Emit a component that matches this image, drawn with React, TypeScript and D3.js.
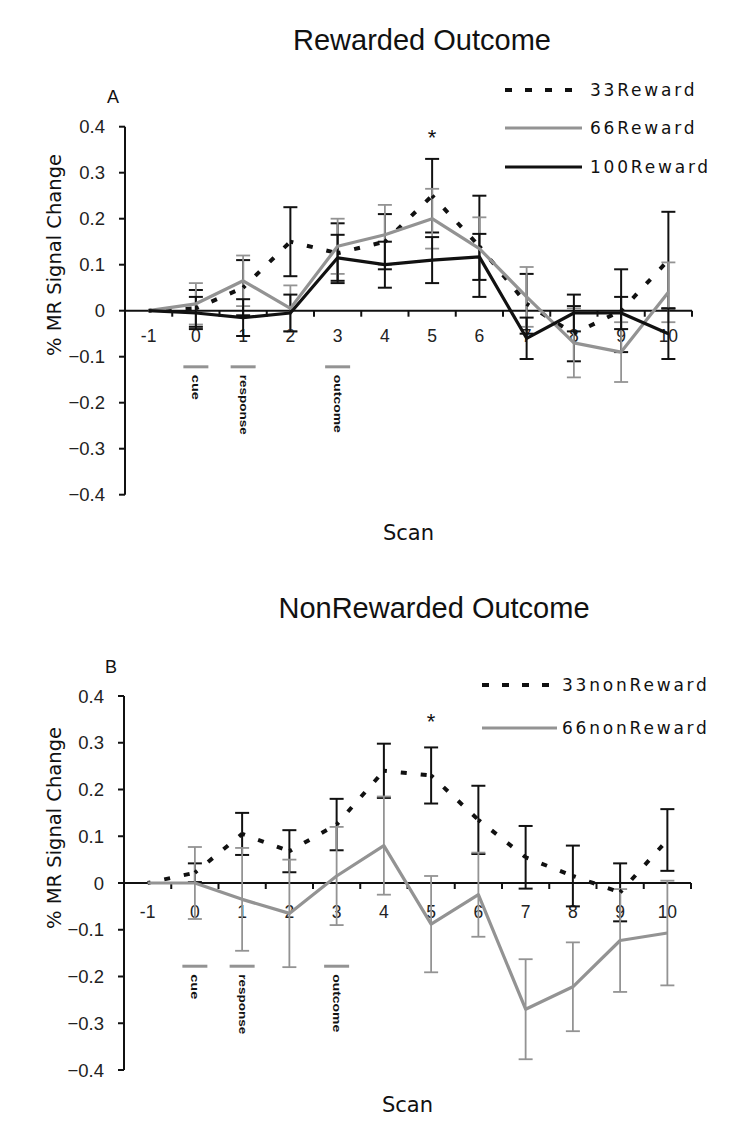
import React from "react";
import * as d3 from "d3";

// ---------- data ----------
const scans = ["-1", "0", "1", "2", "3", "4", "5", "6", "7", "8", "9", "10"];
const yTicks = [0.4, 0.3, 0.2, 0.1, 0, -0.1, -0.2, -0.3, -0.4];

const reward33 = [0, 0.005, 0.05, 0.15, 0.125, 0.15, 0.25, 0.14, 0.015, -0.05, 0.0, 0.11];
const reward33Err = [0, 0.04, 0.06, 0.075, 0.065, 0.06, 0.08, 0.11, 0.065, 0.06, 0.09, 0.105];
const reward66 = [0, 0.015, 0.065, 0.005, 0.14, 0.165, 0.2, 0.135, 0.03, -0.07, -0.09, 0.04];
const reward66Err = [0, 0.045, 0.055, 0.05, 0.06, 0.065, 0.065, 0.068, 0.065, 0.075, 0.065, 0.065];
const reward100 = [0, -0.005, -0.015, -0.005, 0.115, 0.1, 0.11, 0.117, -0.06, -0.005, -0.005, -0.05];
const reward100Err = [0, 0.035, 0.04, 0.04, 0.05, 0.05, 0.05, 0.05, 0.045, 0.04, 0.035, 0.055];

const nonReward33 = [0, 0.022, 0.105, 0.068, 0.125, 0.24, 0.23, 0.135, 0.055, 0.015, -0.02, 0.092];
const nonReward33Err = [0, 0.02, 0.045, 0.045, 0.055, 0.058, 0.06, 0.073, 0.067, 0.065, 0.062, 0.066];
const nonReward66 = [0, 0, -0.035, -0.065, 0.015, 0.08, -0.088, -0.025, -0.27, -0.222, -0.123, -0.107];
const nonReward66Err = [0, 0.077, 0.11, 0.115, 0.105, 0.105, 0.103, 0.09, 0.107, 0.095, 0.11, 0.112];

const markerLabels = ["cue", "response", "outcome"];
const markerScans = ["0", "1", "3"];
const markerLengths = [25, 60, 58];
const sigScan = "5";

type Series = {
  name: string;
  values: number[];
  errors: number[];
  color: string;
  width: number;
  dashed: boolean;
  errColor: string;
  errWidth: number;
};

const BLACK = "#111";
const GRAY = "#939393";

const rewardSeries: Series[] = [
  { name: "33Reward", values: reward33, errors: reward33Err, color: BLACK, width: 4, dashed: true, errColor: BLACK, errWidth: 2 },
  { name: "66Reward", values: reward66, errors: reward66Err, color: GRAY, width: 3.2, dashed: false, errColor: GRAY, errWidth: 1.8 },
  { name: "100Reward", values: reward100, errors: reward100Err, color: BLACK, width: 3.2, dashed: false, errColor: BLACK, errWidth: 2 },
];
const nonRewardSeries: Series[] = [
  { name: "33nonReward", values: nonReward33, errors: nonReward33Err, color: BLACK, width: 4, dashed: true, errColor: BLACK, errWidth: 2 },
  { name: "66nonReward", values: nonReward66, errors: nonReward66Err, color: GRAY, width: 3.2, dashed: false, errColor: GRAY, errWidth: 1.8 },
];

type PanelProps = {
  series: Series[];
  title: string;
  titleX: number;
  titleY: number;
  letter: string;
  letterX: number;
  letterY: number;
  yTop: number;
  yBottom: number;
  xLeft: number;
  xRight: number;
  xLabelDy: number;
  scanY: number;
  yLabelY: number;
  legendX0: number;
  legendX1: number;
  legendTextX: number;
  legendRows: number[];
  markerValue: number;
  starValue: number;
};

const SANS = "'Liberation Sans', Arial, sans-serif";
const VERD = "'DejaVu Sans', Verdana, sans-serif";

function Panel(p: PanelProps) {
  const x = d3.scaleBand<string>().domain(scans).range([p.xLeft, p.xRight]);
  const y = d3.scaleLinear().domain([-0.4, 0.4]).range([p.yBottom, p.yTop]);
  const cx = (s: string) => (x(s) as number) + x.bandwidth() / 2;
  const y0 = y(0);
  const line = d3
    .line<number>()
    .x((_, i) => cx(scans[i]))
    .y((v) => y(v));
  const boundaries = scans.map((s) => x(s) as number).concat([p.xRight]);

  return (
    <g>
      <text x={p.titleX} y={p.titleY} textAnchor="middle" fontFamily={SANS} fontSize={29} fill="#111">
        {p.title}
      </text>
      <text x={p.letterX} y={p.letterY} textAnchor="middle" fontFamily={SANS} fontSize={18} fill="#111">
        {p.letter}
      </text>
      {/* y axis */}
      <line x1={p.xLeft} x2={p.xLeft} y1={y(0.4)} y2={y(-0.4)} stroke="#111" strokeWidth={2} />
      {yTicks.map((t) => (
        <g key={t}>
          <line x1={p.xLeft - 6} x2={p.xLeft} y1={y(t)} y2={y(t)} stroke="#111" strokeWidth={2} />
          <text x={p.xLeft - 20} y={y(t)} dy="0.36em" textAnchor="end" fontFamily={SANS} fontSize={18.5} fill="#222">
            {t === 0 ? "0" : d3.format(".1f")(t)}
          </text>
        </g>
      ))}
      {/* x axis */}
      <line x1={p.xLeft} x2={p.xRight} y1={y0} y2={y0} stroke="#111" strokeWidth={2} />
      {boundaries.map((b, i) => (
        <line key={i} x1={b} x2={b} y1={y0} y2={y0 + 6} stroke="#111" strokeWidth={2} />
      ))}
      {scans.map((s) => (
        <text key={s} x={cx(s)} y={y0 + p.xLabelDy} textAnchor="middle" fontFamily={SANS} fontSize={17.5} fill="#222">
          {s}
        </text>
      ))}
      {/* error bars */}
      {p.series.map((se) =>
        se.values.map((v, i) =>
          se.errors[i] > 0 ? (
            <g key={se.name + i} stroke={se.errColor} strokeWidth={se.errWidth}>
              <line x1={cx(scans[i])} x2={cx(scans[i])} y1={y(v + se.errors[i])} y2={y(v - se.errors[i])} />
              <line x1={cx(scans[i]) - 7} x2={cx(scans[i]) + 7} y1={y(v + se.errors[i])} y2={y(v + se.errors[i])} />
              <line x1={cx(scans[i]) - 7} x2={cx(scans[i]) + 7} y1={y(v - se.errors[i])} y2={y(v - se.errors[i])} />
            </g>
          ) : null
        )
      )}
      {/* lines */}
      {p.series.map((se) =>
        se.dashed ? (
          <g key={se.name}>
            {se.values.slice(1).map((v, i) => (
              <line
                key={i}
                x1={cx(scans[i])}
                y1={y(se.values[i])}
                x2={cx(scans[i + 1])}
                y2={y(v)}
                stroke={se.color}
                strokeWidth={se.width}
                strokeDasharray="6,14"
                strokeDashoffset={3}
              />
            ))}
          </g>
        ) : (
          <path key={se.name} d={line(se.values) as string} fill="none" stroke={se.color} strokeWidth={se.width} strokeLinejoin="round" />
        )
      )}
      {/* significance */}
      <text x={cx(sigScan)} y={y(p.starValue)} textAnchor="middle" fontFamily={SANS} fontSize={22} fill="#111">
        *
      </text>
      {/* event markers */}
      {markerScans.map((s, i) => (
        <g key={s}>
          <line x1={cx(s) - 12.5} x2={cx(s) + 12.5} y1={y(p.markerValue)} y2={y(p.markerValue)} stroke={GRAY} strokeWidth={3} />
          <text
            transform={`translate(${cx(s)},${y(p.markerValue) + 8}) rotate(90)`}
            dominantBaseline="central"
            fontFamily={SANS}
            fontSize={10}
            fontWeight="bold"
            fill="#111"
            textLength={markerLengths[i]}
            lengthAdjust="spacingAndGlyphs"
          >
            {markerLabels[i]}
          </text>
        </g>
      ))}
      {/* axis titles */}
      <text x={(p.xLeft + p.xRight) / 2} y={p.scanY} textAnchor="middle" fontFamily={VERD} fontSize={21} fill="#111">
        Scan
      </text>
      <text
        transform={`translate(61,${p.yLabelY}) rotate(-90)`}
        textAnchor="middle"
        fontFamily={VERD}
        fontSize={19.5}
        fill="#111"
      >
        % MR Signal Change
      </text>
      {/* legend */}
      {p.series.map((se, i) => (
        <g key={se.name}>
          <line
            x1={p.legendX0}
            x2={p.legendX1}
            y1={p.legendRows[i]}
            y2={p.legendRows[i]}
            stroke={se.color}
            strokeWidth={se.width}
            strokeDasharray={se.dashed ? "7,13" : undefined}
          />
          <text x={p.legendTextX} y={p.legendRows[i]} dy="0.36em" fontFamily={VERD} fontSize={17} letterSpacing={2.8} fill="#111">
            {se.name}
          </text>
        </g>
      ))}
    </g>
  );
}

export default function App() {
  return (
    <svg width={753} height={1140} style={{ position: "absolute", left: 0, top: 0, background: "#fff" }}>
      <rect width={753} height={1140} fill="#fff" />
      <Panel
        series={rewardSeries}
        title="Rewarded Outcome"
        titleX={422}
        titleY={50}
        letter="A"
        letterX={113}
        letterY={103}
        yTop={126.7}
        yBottom={494.7}
        xLeft={125}
        xRight={692}
        xLabelDy={31}
        scanY={540}
        yLabelY={255}
        legendX0={505}
        legendX1={582}
        legendTextX={590}
        legendRows={[90, 128, 167]}
        markerValue={-0.122}
        starValue={0.36}
      />
      <Panel
        series={nonRewardSeries}
        title="NonRewarded Outcome"
        titleX={434}
        titleY={618}
        letter="B"
        letterX={111}
        letterY={673}
        yTop={696}
        yBottom={1070}
        xLeft={124}
        xRight={691}
        xLabelDy={35}
        scanY={1112}
        yLabelY={828}
        legendX0={482}
        legendX1={557}
        legendTextX={562}
        legendRows={[685, 728]}
        markerValue={-0.178}
        starValue={0.33}
      />
    </svg>
  );
}
